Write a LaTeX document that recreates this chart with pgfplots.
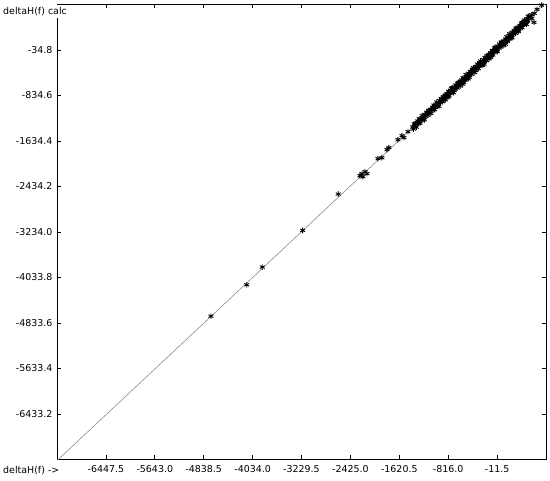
\documentclass[border=0pt]{standalone}
\usepackage{pgfplots}
\pgfplotsset{compat=1.18}
\usepackage{fontspec}
\setmainfont{DejaVu Sans}

\pgfplotstableread{
x y
-4719 -4714
-4131 -4163
-3875 -3851
-3210 -3207
-2625 -2567
-2268 -2245
-2235 -2209
-2185 -2174
-2152 -2209
-2219 -2262
-1972 -1945
-1906 -1928
-1824 -1787
-1791 -1752
-1643 -1611
-1577 -1541
-1544 -1576
-1478 -1470
}\sparse

\pgfplotstableread{
x y
-1400 -1388
-1388 -1423
-1376 -1336
-1364 -1372
-1352 -1327
-1340 -1390
-1328 -1323
-1316 -1283
-1304 -1324
-1292 -1244
-1280 -1322
-1268 -1250
-1256 -1261
-1244 -1189
-1232 -1260
-1220 -1212
-1208 -1263
-1196 -1166
-1184 -1199
-1172 -1130
-1160 -1148
-1148 -1183
-1136 -1096
-1124 -1132
-1112 -1087
-1100 -1150
-1088 -1083
-1076 -1043
-1064 -1084
-1052 -1004
-1040 -1082
-1028 -1010
-1016 -1021
-1004 -949
-992 -1020
-980 -972
-968 -1023
-956 -926
-944 -959
-932 -890
-920 -908
-908 -943
-896 -856
-884 -892
-872 -847
-860 -910
-848 -843
-836 -803
-824 -844
-812 -764
-800 -842
-788 -770
-776 -781
-764 -709
-752 -780
-740 -732
-728 -783
-716 -686
-704 -719
-692 -650
-680 -668
-668 -703
-656 -616
-644 -652
-632 -607
-620 -670
-608 -603
-596 -563
-584 -604
-572 -524
-560 -602
-548 -530
-536 -541
-524 -469
-512 -540
-500 -492
-488 -543
-476 -446
-464 -479
-452 -410
-440 -428
-428 -463
-416 -376
-404 -412
-392 -367
-380 -430
-368 -363
-356 -323
-344 -364
-332 -284
-320 -362
-308 -290
-296 -301
-284 -229
-272 -300
-260 -252
-248 -303
-236 -206
-224 -239
-212 -170
-200 -188
-188 -223
-176 -136
-164 -172
-152 -127
-140 -190
-128 -123
-116 -83
-104 -124
-92 -44
-80 -122
-68 -50
-56 -61
-44 11
-32 -60
-20 -12
-8 -63
4 34
16 1
28 70
40 52
52 17
64 104
76 68
88 113
100 50
112 117
124 157
136 116
148 196
160 118
172 190
184 179
196 251
208 180
220 228
232 177
244 274
256 241
268 310
280 292
292 257
304 344
316 308
328 353
340 290
352 357
364 397
376 356
388 436
400 358
412 430
424 419
436 491
448 420
460 468
472 417
484 514
496 481
508 550
-890 -910
-855 -825
-820 -865
-785 -770
-750 -700
-715 -745
-680 -680
-645 -607
-610 -622
-575 -633
-540 -560
-505 -475
-470 -515
-435 -420
-400 -350
-365 -395
-330 -330
-295 -257
-260 -272
-225 -283
-190 -210
-155 -125
-120 -165
-85 -70
-50 0
-15 -45
20 20
55 93
90 78
125 67
160 140
195 225
230 185
265 280
300 350
335 305
370 370
405 443
440 428
480 470
500 560
530 555
560 520
560 585
595 450
600 610
645 680
720 755
}\cluster

\begin{document}
\begin{tikzpicture}
\begin{axis}[name=ax,
  scale only axis, width=489bp, height=455bp,
  xmin=-7252, xmax=793, ymin=-7233, ymax=765,
  axis line style={line width=0.8bp},
  tick align=inside, major tick length=4bp,
  tick style={black, line width=0.6bp},
  xtick={-6447.5,-5643,-4838.5,-4034,-3229.5,-2425,-1620.5,-816,-11.5},
  xticklabels={-6447.5,-5643.0,-4838.5,-4034.0,-3229.5,-2425.0,-1620.5,-816.0,-11.5},
  ytick={-6433.2,-5633.4,-4833.6,-4033.8,-3234.0,-2434.2,-1634.4,-834.6,-34.8},
  yticklabels={-6433.2,-5633.4,-4833.6,-4033.8,-3234.0,-2434.2,-1634.4,-834.6,-34.8},
  ticklabel style={font=\fontsize{9.5}{11}\selectfont},
  xticklabel style={yshift=-2.5bp},
  yticklabel style={xshift=-1bp},
  clip=true]
\addplot[color={rgb,255:red,140;green,140;blue,140}, line width=0.6bp] coordinates {(-7252,-7252) (793,793)};
\addplot[only marks, mark=asterisk, mark size=2.8bp, black, mark options={line width=0.9bp}] table[x=x,y=y] {\sparse};
\addplot[only marks, mark=asterisk, mark size=2.8bp, black, mark options={line width=0.9bp}] table[x=x,y=y] {\cluster};
\end{axis}
\node[anchor=west, fill=white, inner sep=2bp, font=\fontsize{9.5}{11}\selectfont]
  at ([xshift=-56bp, yshift=-7bp]ax.north west) {deltaH(f) calc};
\node[anchor=west, inner sep=0pt, font=\fontsize{9.5}{11}\selectfont]
  at ([xshift=-54bp, yshift=-11bp]ax.south west) {deltaH(f) ->};
\pgfresetboundingbox
\useasboundingbox ([xshift=-57bp, yshift=-21.5bp]ax.south west) rectangle ([xshift=4bp, yshift=4.5bp]ax.north east);
\end{tikzpicture}
\end{document}
